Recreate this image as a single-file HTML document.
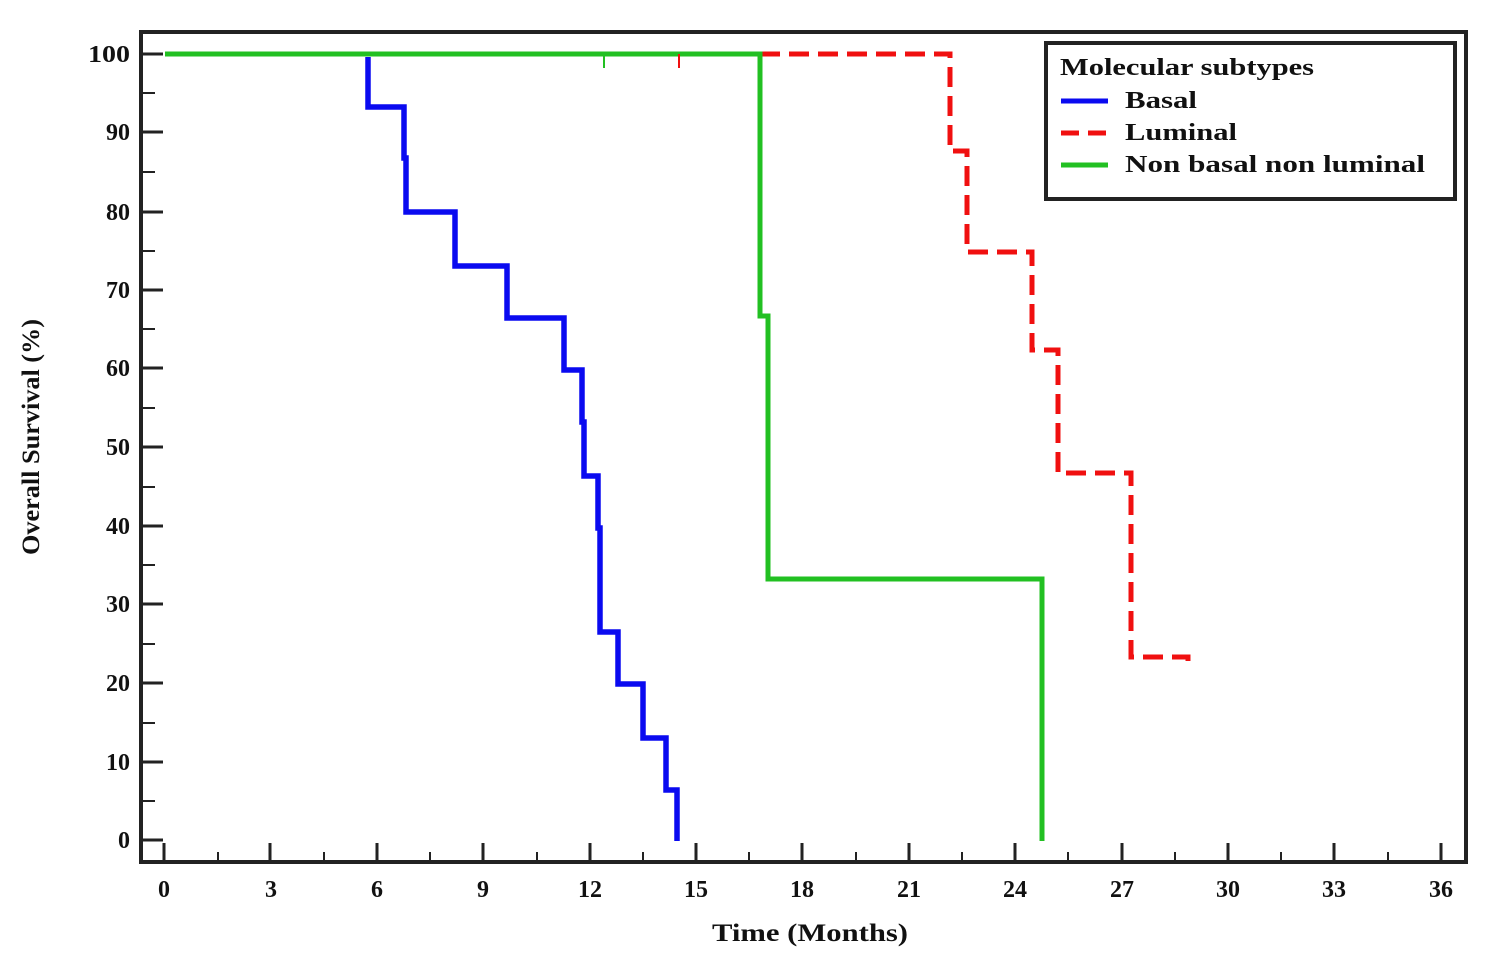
<!DOCTYPE html>
<html><head><meta charset="utf-8"><style>
html,body{margin:0;padding:0;background:#fff;}
svg{display:block;}
text{font-family:"Liberation Serif",serif;font-weight:bold;fill:#111;}
</style></head><body>
<svg width="1501" height="976" viewBox="0 0 1501 976" xmlns="http://www.w3.org/2000/svg">
<rect x="0" y="0" width="1501" height="976" fill="#fff"/>
<rect x="141" y="32" width="1325" height="830" fill="none" stroke="#222" stroke-width="4"/>
<g stroke="#222" stroke-width="3">
<line x1="141" y1="54" x2="163" y2="54"/><line x1="141" y1="132" x2="163" y2="132"/>
<line x1="141" y1="212" x2="163" y2="212"/><line x1="141" y1="290" x2="163" y2="290"/>
<line x1="141" y1="368" x2="163" y2="368"/><line x1="141" y1="447" x2="163" y2="447"/>
<line x1="141" y1="526" x2="163" y2="526"/><line x1="141" y1="604" x2="163" y2="604"/>
<line x1="141" y1="683" x2="163" y2="683"/><line x1="141" y1="762" x2="163" y2="762"/>
<line x1="141" y1="840" x2="163" y2="840"/>
</g>
<g stroke="#222" stroke-width="2">
<line x1="141" y1="93" x2="155" y2="93"/><line x1="141" y1="172" x2="155" y2="172"/>
<line x1="141" y1="251" x2="155" y2="251"/><line x1="141" y1="329" x2="155" y2="329"/>
<line x1="141" y1="408" x2="155" y2="408"/><line x1="141" y1="487" x2="155" y2="487"/>
<line x1="141" y1="565" x2="155" y2="565"/><line x1="141" y1="644" x2="155" y2="644"/>
<line x1="141" y1="723" x2="155" y2="723"/><line x1="141" y1="801" x2="155" y2="801"/>
</g>
<g font-size="24" text-anchor="end">
<text x="130" y="62" textLength="42" lengthAdjust="spacingAndGlyphs">100</text><text x="130" y="140">90</text><text x="130" y="220">80</text>
<text x="130" y="298">70</text><text x="130" y="376">60</text><text x="130" y="455">50</text>
<text x="130" y="534">40</text><text x="130" y="612">30</text><text x="130" y="691">20</text>
<text x="130" y="770">10</text><text x="130" y="848">0</text>
</g>
<g stroke="#222" stroke-width="3">
<line x1="164" y1="862" x2="164" y2="843"/><line x1="270" y1="862" x2="270" y2="843"/>
<line x1="377" y1="862" x2="377" y2="843"/><line x1="483" y1="862" x2="483" y2="843"/>
<line x1="590" y1="862" x2="590" y2="843"/><line x1="696" y1="862" x2="696" y2="843"/>
<line x1="802" y1="862" x2="802" y2="843"/><line x1="909" y1="862" x2="909" y2="843"/>
<line x1="1015" y1="862" x2="1015" y2="843"/><line x1="1122" y1="862" x2="1122" y2="843"/>
<line x1="1228" y1="862" x2="1228" y2="843"/><line x1="1334" y1="862" x2="1334" y2="843"/>
<line x1="1441" y1="862" x2="1441" y2="843"/>
</g>
<g stroke="#222" stroke-width="2">
<line x1="218" y1="862" x2="218" y2="852"/><line x1="324" y1="862" x2="324" y2="852"/>
<line x1="430" y1="862" x2="430" y2="852"/><line x1="537" y1="862" x2="537" y2="852"/>
<line x1="643" y1="862" x2="643" y2="852"/><line x1="749" y1="862" x2="749" y2="852"/>
<line x1="856" y1="862" x2="856" y2="852"/><line x1="962" y1="862" x2="962" y2="852"/>
<line x1="1068" y1="862" x2="1068" y2="852"/><line x1="1175" y1="862" x2="1175" y2="852"/>
<line x1="1281" y1="862" x2="1281" y2="852"/><line x1="1388" y1="862" x2="1388" y2="852"/>
</g>
<g font-size="24" text-anchor="middle">
<text x="164" y="897">0</text><text x="271" y="897">3</text><text x="377" y="897">6</text>
<text x="483" y="897">9</text><text x="590" y="897">12</text><text x="696" y="897">15</text>
<text x="802" y="897">18</text><text x="909" y="897">21</text><text x="1015" y="897">24</text>
<text x="1122" y="897">27</text><text x="1228" y="897">30</text><text x="1334" y="897">33</text>
<text x="1441" y="897">36</text>
</g>
<text x="712" y="941" font-size="25" textLength="196" lengthAdjust="spacingAndGlyphs">Time (Months)</text>
<text x="0" y="0" font-size="25" textLength="236" lengthAdjust="spacingAndGlyphs" transform="translate(39,555) rotate(-90)">Overall Survival (%)</text>
<polyline fill="none" stroke="#f01010" stroke-width="5" stroke-dasharray="20,9" points="760,54 950,54 950,151 967,151 967,252 1032,252 1032,350 1058,350 1058,473 1131,473 1131,657 1188,657 1188,670"/>
<polyline fill="none" stroke="#22c022" stroke-width="5" points="165,54 760,54 760,316 768,316 768,579 1042,579 1042,841"/>
<line x1="604" y1="54" x2="604" y2="68" stroke="#22c022" stroke-width="2"/>
<line x1="679" y1="54" x2="679" y2="68" stroke="#f01010" stroke-width="2"/>
<polyline fill="none" stroke="#0a0af0" stroke-width="5.5" points="368,57 368,107 404,107 404,158 406,158 406,212 455,212 455,266 507,266 507,318 564,318 564,370 582,370 582,422 584,422 584,476 598,476 598,528 600,528 600,632 618,632 618,684 643,684 643,738 666,738 666,790 677,790 677,841"/>
<rect x="1046" y="43" width="409" height="156" fill="#fff" stroke="#222" stroke-width="4"/>
<text x="1060" y="75" font-size="24" textLength="254" lengthAdjust="spacingAndGlyphs">Molecular subtypes</text>
<line x1="1061" y1="101" x2="1108" y2="101" stroke="#0a0af0" stroke-width="5"/>
<text x="1125" y="108" font-size="24" textLength="72" lengthAdjust="spacingAndGlyphs">Basal</text>
<line x1="1061" y1="133" x2="1108" y2="133" stroke="#f01010" stroke-width="5" stroke-dasharray="18,9"/>
<text x="1125" y="140" font-size="24" textLength="112" lengthAdjust="spacingAndGlyphs">Luminal</text>
<line x1="1061" y1="165" x2="1108" y2="165" stroke="#22c022" stroke-width="5"/>
<text x="1125" y="172" font-size="24" textLength="300" lengthAdjust="spacingAndGlyphs">Non basal non luminal</text>
</svg>
</body></html>
